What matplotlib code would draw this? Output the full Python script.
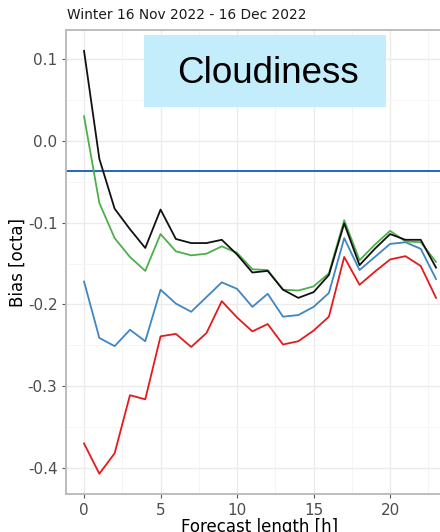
import matplotlib
matplotlib.use("Agg")
import matplotlib.pyplot as plt
from matplotlib.patches import Rectangle
from matplotlib.ticker import MultipleLocator

lead = list(range(24))

bias_black = [0.110, -0.022, -0.083, -0.108, -0.131, -0.084, -0.120, -0.125, -0.125, -0.121,
              -0.139, -0.161, -0.159, -0.182, -0.192, -0.185, -0.164, -0.101, -0.152, -0.132,
              -0.114, -0.121, -0.121, -0.155]
bias_green = [0.030, -0.076, -0.119, -0.142, -0.159, -0.114, -0.135, -0.140, -0.138, -0.129,
              -0.137, -0.157, -0.158, -0.182, -0.183, -0.178, -0.162, -0.097, -0.146, -0.127,
              -0.110, -0.123, -0.124, -0.148]
bias_blue = [-0.172, -0.241, -0.251, -0.231, -0.245, -0.182, -0.199, -0.209, -0.191, -0.173,
             -0.181, -0.203, -0.187, -0.215, -0.213, -0.203, -0.186, -0.119, -0.158, -0.142,
             -0.126, -0.124, -0.132, -0.169]
bias_red = [-0.370, -0.407, -0.382, -0.311, -0.316, -0.239, -0.236, -0.252, -0.235, -0.196,
            -0.216, -0.233, -0.224, -0.249, -0.245, -0.232, -0.215, -0.142, -0.176, -0.160,
            -0.145, -0.141, -0.153, -0.192]
mean_bias = -0.0367

title = "Winter 16 Nov 2022 - 16 Dec 2022"
label = "Cloudiness"

fig = plt.figure(figsize=(4.4, 5.32), dpi=100)
# panel runs past the right edge of the picture, like the cropped original
ax = fig.add_axes([0.151, 0.0714, 0.88, 0.8722])

ax.axhline(mean_bias, color="#1f66c6", lw=1.4, zorder=2)
ax.plot(lead, bias_red, color="#e41a1c", lw=1.3, zorder=3)
ax.plot(lead, bias_blue, color="#3f86c2", lw=1.3, zorder=3)
ax.plot(lead, bias_green, color="#4daf4a", lw=1.3, zorder=3)
ax.plot(lead, bias_black, color="#111111", lw=1.3, zorder=4)

ax.set_xlim(-1.15, 24.15)
ax.set_ylim(-0.4318, 0.1355)
ax.xaxis.set_major_locator(MultipleLocator(5))
ax.xaxis.set_minor_locator(MultipleLocator(2.5))
ax.yaxis.set_major_locator(MultipleLocator(0.1))
ax.yaxis.set_minor_locator(MultipleLocator(0.05))
ax.set_yticks([0.1, 0.0, -0.1, -0.2, -0.3, -0.4])
ax.set_yticklabels(["0.1", "0.0", "-0.1", "-0.2", "-0.3", "-0.4"])

ax.grid(which="major", color="#ebebeb", lw=1.0, zorder=0)
ax.grid(which="minor", color="#f4f4f4", lw=0.6, zorder=0)
ax.set_axisbelow(True)
for s in ax.spines.values():
    s.set_color("#b8b8b8")
    s.set_linewidth(1.3)
ax.tick_params(which="major", length=3, color="#555555", labelcolor="#4d4d4d", labelsize=11)
ax.tick_params(which="minor", length=0)

ax.set_xlabel("Forecast length [h]", fontsize=12, labelpad=0)
ax.set_ylabel("Bias [octa]", fontsize=12, labelpad=1)

fig.text(0.152, 0.958, title, fontsize=9.9, color="#1a1a1a", ha="left", va="bottom")

fig.patches.append(Rectangle((144 / 440, 1 - 107 / 532), 242 / 440, 72 / 532,
                             transform=fig.transFigure, facecolor="#c4edfb",
                             edgecolor="none", zorder=5))
fig.text(268 / 440, 1 - 73 / 532, label, fontsize=26.5, family="Liberation Sans",
         ha="center", va="center", color="black", zorder=6)

fig.savefig("out.png", dpi=100)
